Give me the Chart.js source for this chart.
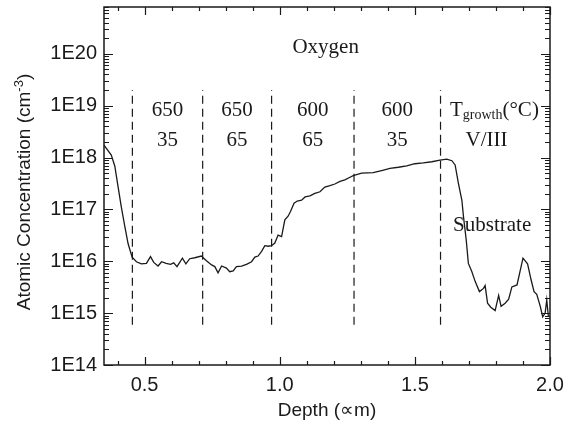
<!DOCTYPE html>
<html>
<head>
<meta charset="utf-8">
<script src="https://cdn.jsdelivr.net/npm/chart.js@4.4.1/dist/chart.umd.min.js"></script>
<style>
html,body{margin:0;padding:0;background:#fff;}
canvas{display:block;}
</style>
</head>
<body>
<canvas id="sims" width="575" height="428"></canvas>
<script>
// =====================================================
// SIMS depth profile - Oxygen
// =====================================================

// ---------- Data ----------

const depthUm = [
  0.350, 0.377, 0.390, 0.402, 0.414, 0.427, 0.439, 0.454, 0.470, 0.488,
  0.507, 0.522, 0.534, 0.550, 0.563, 0.580, 0.596, 0.608, 0.620, 0.640,
  0.653, 0.667, 0.686, 0.710, 0.729, 0.748, 0.760, 0.772, 0.785, 0.803,
  0.815, 0.828, 0.840, 0.859, 0.877, 0.896, 0.908, 0.920, 0.933, 0.945,
  0.957, 0.970, 0.982, 0.994, 1.007, 1.019, 1.031, 1.040, 1.053, 1.065,
  1.081, 1.094, 1.112, 1.130, 1.149, 1.167, 1.186, 1.204, 1.223, 1.241,
  1.260, 1.272, 1.303, 1.346, 1.377, 1.408, 1.439, 1.470, 1.500, 1.531,
  1.563, 1.593, 1.618, 1.637, 1.649, 1.661, 1.674, 1.680, 1.690, 1.698,
  1.711, 1.723, 1.739, 1.754, 1.760, 1.769, 1.781, 1.797, 1.810, 1.819,
  1.834, 1.847, 1.859, 1.878, 1.900, 1.917, 1.930, 1.941, 1.951, 1.964,
  1.973, 1.982, 1.988, 1.994
];

const oxygenConc = [
  1.74e18, 1.12e18, 6.8e17, 2.75e17, 1.12e17, 4.7e16, 2.2e16, 1.2e16, 9.8e15, 8.9e15,
  9.1e15, 1.23e16, 9.5e15, 8.1e15, 9.8e15, 9.1e15, 8.7e15, 9.3e15, 7.9e15, 1.15e16,
  8.9e15, 1.12e16, 1.17e16, 1.26e16, 1.02e16, 8.5e15, 7.9e15, 6.0e15, 8.1e15, 7.4e15,
  6.3e15, 6.5e15, 7.9e15, 8.1e15, 8.7e15, 9.8e15, 1.2e16, 1.26e16, 1.55e16, 2.0e16,
  1.95e16, 2.0e16, 2.24e16, 3.2e16, 3.0e16, 6.3e16, 7.4e16, 9.1e16, 1.32e17, 1.45e17,
  1.51e17, 1.74e17, 1.82e17, 2.04e17, 2.19e17, 2.69e17, 2.88e17, 3.09e17, 3.47e17, 3.72e17,
  4.17e17, 4.47e17, 5.0e17, 5.1e17, 5.6e17, 6.2e17, 6.5e17, 6.9e17, 7.6e17, 7.9e17,
  8.3e17, 8.9e17, 9.3e17, 8.7e17, 7.2e17, 3.2e17, 1.5e17, 7.2e16, 2.6e16, 9.1e15,
  6.3e15, 4.1e15, 2.6e15, 3.0e15, 3.4e15, 1.55e15, 1.3e15, 1.12e15, 2.2e15, 1.35e15,
  1.55e15, 1.86e15, 3.2e15, 3.5e15, 1.15e16, 8.9e15, 4.4e15, 2.6e15, 2.3e15, 1.35e15,
  8.5e14, 1.0e15, 1.8e15, 8.5e14
];

// layer boundaries (dashed lines) and their vertical extent
const layerEdges = [0.455, 0.715, 0.97, 1.275, 1.595];
const dashSpan = [6e14, 2e19];

const growthTemps = ["650", "650", "600", "600"];
const vIIIRatios = ["35", "65", "65", "35"];

// ---------- Axes ----------

const xTickValues = [0.5, 1.0, 1.5, 2.0];
const xTickLabels = ["0.5", "1.0", "1.5", "2.0"];
const xMinorValues = [0.4, 0.6, 0.7, 0.8, 0.9, 1.1, 1.2, 1.3, 1.4, 1.6, 1.7, 1.8, 1.9];

const yTickValues = [1e14, 1e15, 1e16, 1e17, 1e18, 1e19, 1e20];
const yTickLabels = ["1E14", "1E15", "1E16", "1E17", "1E18", "1E19", "1E20"];

const X_MIN = 0.35, X_MAX = 2.0;
const Y_MIN = 1e14, Y_MAX = 8e20;

const INK = "#1a1a1a";
const SANS = '"Liberation Sans", Arial, sans-serif';
const SERIF = '"Liberation Serif", "Times New Roman", serif';


// =====================================================
// Frame with inward ticks on all four sides
// =====================================================

const framePlugin = {

  id: "frame",

  afterDatasetsDraw(chart){

    const {ctx, chartArea: a, scales: {x, y}} = chart;

    ctx.save();
    ctx.strokeStyle = INK;
    ctx.lineWidth = 1.5;
    ctx.strokeRect(a.left, a.top, a.right - a.left, a.bottom - a.top);

    ctx.lineWidth = 1.2;
    ctx.beginPath();

    const xTick = (v, len) => {
      const px = Math.round(x.getPixelForValue(v)) + 0.5;
      ctx.moveTo(px, a.bottom); ctx.lineTo(px, a.bottom - len);
      ctx.moveTo(px, a.top);    ctx.lineTo(px, a.top + len);
    };
    xTickValues.forEach(v => xTick(v, 8));
    xMinorValues.forEach(v => xTick(v, 4));

    const yTick = (v, len) => {
      if (v < Y_MIN || v > Y_MAX) return;
      const py = Math.round(y.getPixelForValue(v)) + 0.5;
      ctx.moveTo(a.left, py);  ctx.lineTo(a.left + len, py);
      ctx.moveTo(a.right, py); ctx.lineTo(a.right - len, py);
    };
    yTickValues.forEach(v => {
      yTick(v, 9);
      for (let m = 2; m <= 9; m++) yTick(v * m, 5);
    });

    ctx.stroke();
    ctx.restore();

  }

};


// =====================================================
// Text notes inside the plot + y title
// =====================================================

const notesPlugin = {

  id: "notes",

  afterDraw(chart){

    const {ctx, chartArea: a, scales: {x, y}} = chart;

    ctx.save();
    ctx.fillStyle = INK;
    ctx.textBaseline = "middle";
    ctx.textAlign = "center";
    ctx.font = "21px " + SERIF;

    ctx.fillText("Oxygen", x.getPixelForValue(1.17), y.getPixelForValue(1.3e20));

    for (let i = 0; i < growthTemps.length; i++){
      const mid = x.getPixelForValue((layerEdges[i] + layerEdges[i + 1]) / 2);
      ctx.fillText(growthTemps[i], mid, y.getPixelForValue(8e18));
      ctx.fillText(vIIIRatios[i], mid, y.getPixelForValue(2.1e18));
    }

    ctx.fillText("V/III", x.getPixelForValue(1.765), y.getPixelForValue(2.1e18));
    ctx.fillText("Substrate", x.getPixelForValue(1.786), y.getPixelForValue(5e16));

    // T_growth(°C)
    ctx.textAlign = "left";
    let tx = x.getPixelForValue(1.63);
    const ty = y.getPixelForValue(8e18);
    ctx.font = "21px " + SERIF;
    ctx.fillText("T", tx, ty);
    tx += ctx.measureText("T").width;
    ctx.font = "14px " + SERIF;
    ctx.fillText("growth", tx, ty + 5);
    tx += ctx.measureText("growth").width;
    ctx.font = "21px " + SERIF;
    ctx.fillText("(\u00B0C)", tx, ty);

    // y axis title with superscript
    const main = "Atomic Concentration (cm";
    const sup = "-3";
    const end = ")";
    ctx.font = "19px " + SANS;
    const wMain = ctx.measureText(main).width;
    const wEnd = ctx.measureText(end).width;
    ctx.font = "13px " + SANS;
    const wSup = ctx.measureText(sup).width;
    const total = wMain + wSup + wEnd;

    ctx.translate(25, (a.top + a.bottom) / 2 + 6);
    ctx.rotate(-Math.PI / 2);
    let sx = -total / 2;
    ctx.font = "19px " + SANS;
    ctx.fillText(main, sx, 0);
    sx += wMain;
    ctx.font = "13px " + SANS;
    ctx.fillText(sup, sx, -6);
    sx += wSup;
    ctx.font = "19px " + SANS;
    ctx.fillText(end, sx, 0);

    ctx.restore();

  }

};


// =====================================================
// Build chart
// =====================================================

const profilePoints = depthUm.map((d, i) => ({x: d, y: oxygenConc[i]}));

const dashSets = layerEdges.map(e => ({
  data: [{x: e, y: dashSpan[0]}, {x: e, y: dashSpan[1]}],
  borderColor: INK,
  borderWidth: 1.2,
  borderDash: [8, 5],
  pointRadius: 0,
  fill: false
}));

new Chart(document.getElementById("sims"), {

  type: "line",

  data: {
    datasets: [
      {
        data: profilePoints,
        borderColor: INK,
        borderWidth: 1.3,
        pointRadius: 0,
        tension: 0,
        fill: false
      },
      ...dashSets
    ]
  },

  options: {

    responsive: false,
    animation: false,
    devicePixelRatio: 1,

    layout: {
      padding: {top: 7, right: 25, left: 0, bottom: 0}
    },

    plugins: {
      legend: {display: false},
      tooltip: {enabled: false}
    },

    scales: {

      x: {
        type: "linear",
        min: X_MIN,
        max: X_MAX,
        grid: {display: false, drawTicks: false},
        border: {display: false},
        afterBuildTicks: s => { s.ticks = xTickValues.map(v => ({value: v})); },
        afterFit: s => {
          s.height = 63;
          s.paddingLeft = 0;
          s.paddingRight = 0;
        },
        ticks: {
          autoSkip: false,
          maxRotation: 0,
          padding: 8,
          color: INK,
          font: {family: SANS, size: 20},
          callback: (v, i) => xTickLabels[i]
        },
        title: {
          display: true,
          text: "Depth (\u221Dm)",
          color: INK,
          font: {family: SANS, size: 19},
          padding: {top: 0, bottom: 6}
        }
      },

      y: {
        type: "logarithmic",
        min: Y_MIN,
        max: Y_MAX,
        grid: {display: false, drawTicks: false},
        border: {display: false},
        afterBuildTicks: s => { s.ticks = yTickValues.map(v => ({value: v})); },
        afterFit: s => {
          s.width = 104;
          s.paddingTop = 0;
          s.paddingBottom = 0;
        },
        ticks: {
          autoSkip: false,
          padding: 7,
          color: INK,
          font: {family: SANS, size: 20},
          callback: (v, i) => yTickLabels[i]
        }
      }

    }

  },

  plugins: [framePlugin, notesPlugin]

});
</script>
</body>
</html>
